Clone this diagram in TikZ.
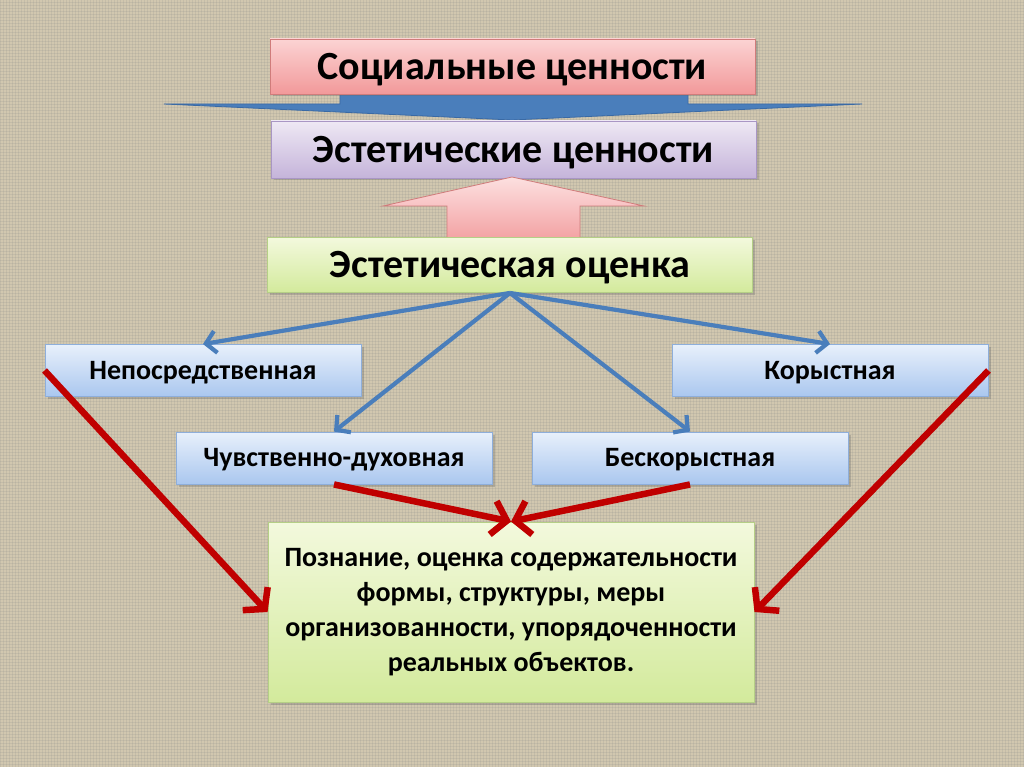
\documentclass[tikz,border=0pt]{standalone}
\usepackage{fontspec}
\setmainfont{Carlito}
\usetikzlibrary{arrows.meta,shadows,patterns}
\definecolor{bgc}{HTML}{D1C7AF}
\definecolor{pinkT}{HTML}{FBD3D3}
\definecolor{pinkB}{HTML}{F2999A}
\definecolor{pinkD}{HTML}{D07C7B}
\definecolor{lavT}{HTML}{EEE8F4}
\definecolor{lavB}{HTML}{C5B4DA}
\definecolor{lavD}{HTML}{A996C4}
\definecolor{grT}{HTML}{F3F9DD}
\definecolor{grB}{HTML}{D3EA9C}
\definecolor{grD}{HTML}{B5CF86}
\definecolor{blT}{HTML}{E8F0FB}
\definecolor{blB}{HTML}{AAC7EF}
\definecolor{blD}{HTML}{8EAEDA}
\definecolor{arrB}{HTML}{4A7EBB}
\definecolor{arrBD}{HTML}{3A6AA5}
\definecolor{arrR}{HTML}{C00000}
\begin{document}
\begin{tikzpicture}[x=1pt,y=-1pt,
  shd/.style={drop shadow={shadow xshift=2.5pt,shadow yshift=-2.5pt,opacity=0.3,fill=black!60}},
  bigbox/.style={shd,draw,line width=0.9pt,minimum width=485pt,minimum height=57pt,inner sep=0pt,
     text height=25.6pt,text depth=0pt,font=\fontsize{40}{46}\selectfont\bfseries},
  pinkbox/.style={bigbox,top color=pinkT,bottom color=pinkB,draw=pinkD},
  lavbox/.style={bigbox,top color=lavT,bottom color=lavB,draw=lavD},
  grbox/.style={bigbox,top color=grT,bottom color=grB,draw=grD},
  blbox/.style={shd,draw=blD,line width=0.9pt,top color=blT,bottom color=blB,
     minimum width=316pt,minimum height=52pt,inner sep=0pt,text height=17.9pt,text depth=0pt,
     font=\fontsize{28}{32}\selectfont\bfseries},
  barrow/.style={draw=arrB,line width=4.2pt,-{Straight Barb[length=10pt,width=22pt]}},
  rarrow/.style={draw=arrR,line width=6.5pt,-{Straight Barb[length=14pt,width=34pt]}}
]
\fill[bgc] (0,0) rectangle (1024,767);
\fill[pattern=grid,pattern color=black!45,opacity=0.18] (0,0) rectangle (1024,767);
\useasboundingbox (0,0) rectangle (1024,767);

% blue banner arrow
\draw[arrBD,line width=0.8pt,fill=arrB] (340,92) -- (688,92) -- (688,104) -- (862,104) -- (512,120) -- (164,104) -- (340,104) -- cycle;

\node[pinkbox,minimum height=55pt] (soc) at (512.5,66.5) {Социальные ценности};
\node[lavbox] (est) at (513.5,149.5) {Эстетические ценности};

% pink up arrow
\draw[pinkD,line width=0.8pt,top color=pinkT!70!white,bottom color=pinkB!90!white]
  (512,177) -- (644,206) -- (580,206) -- (580,238) -- (447,238) -- (447,206) -- (383,206) -- cycle;

\node[grbox,minimum height=55pt] (oc) at (510,265) {Эстетическая оценка};

\node[blbox] (nep) at (203,370.5) {Непосредственная};
\node[blbox] (kor) at (830,370.5) {Корыстная};
\node[blbox] (chu) at (334,458) {Чувственно-духовная};
\node[blbox] (bes) at (690,458) {Бескорыстная};

\node[shd,draw=grD,line width=0.9pt,top color=grT,bottom color=grB,minimum width=486pt,minimum height=180pt,
  inner sep=0pt,align=center,font=\fontsize{28}{35}\selectfont\bfseries] (res) at (511,612)
  {Познание, оценка содержательности\\формы, структуры, меры\\организованности, упорядоченности\\реальных объектов.};

\draw[barrow] (oc.south) -- (nep.north);
\draw[barrow] (oc.south) -- (kor.north);
\draw[barrow] (oc.south) -- (chu.north);
\draw[barrow] (oc.south) -- (bes.north);

\draw[rarrow] (nep.west) -- (res.west);
\draw[rarrow] (kor.east) -- (res.east);
\draw[rarrow] (chu.south) -- (res.north);
\draw[rarrow] (bes.south) -- (res.north);
\end{tikzpicture}
\end{document}
